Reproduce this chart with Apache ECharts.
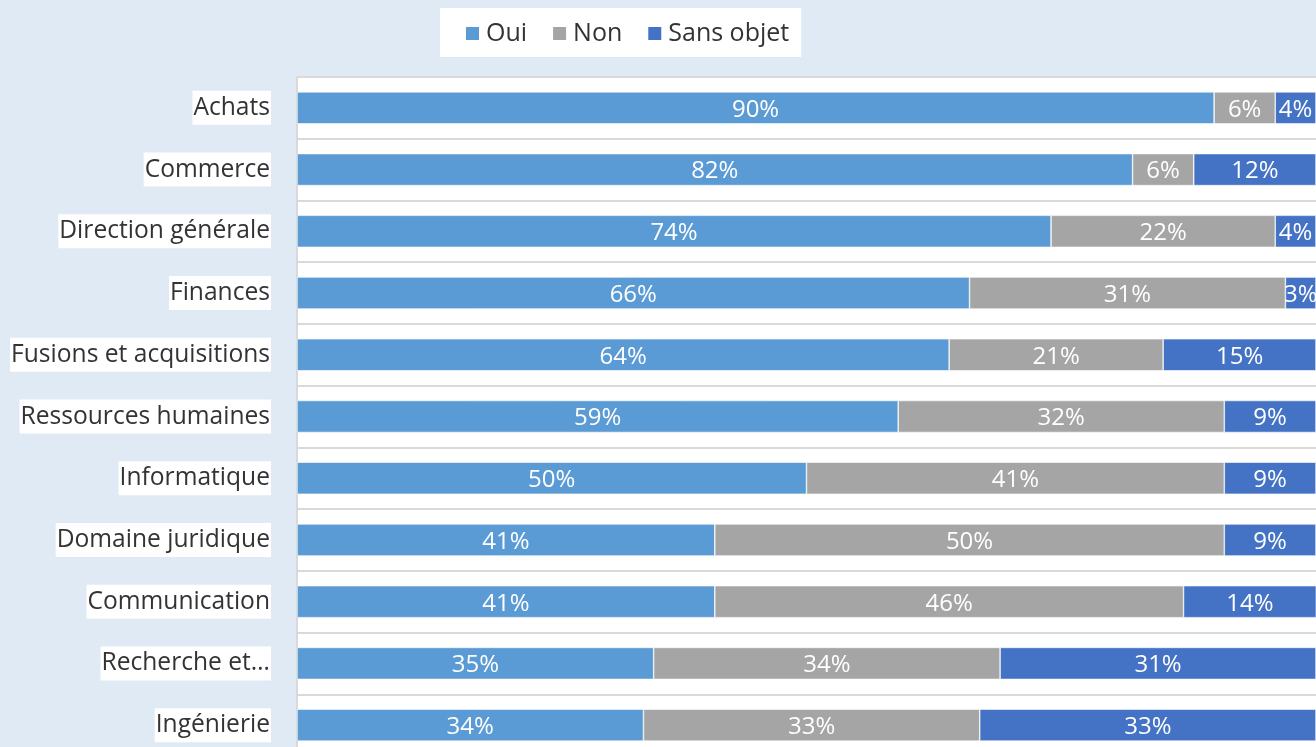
<!DOCTYPE html>
<html>
<head>
<meta charset="utf-8">
<script src="https://cdn.jsdelivr.net/npm/echarts@6/dist/echarts.min.js"></script>
<style>
  html, body { margin: 0; padding: 0; background: #dfeaf5; }
  #chart { width: 1316px; height: 747px; }
</style>
</head>
<body>
<div id="chart"></div>
<script>
// Share of respondents per function (percent)
const categories = [
  'Achats', 'Commerce', 'Direction générale', 'Finances', 'Fusions et acquisitions',
  'Ressources humaines', 'Informatique', 'Domaine juridique', 'Communication',
  'Recherche et…', 'Ingénierie'
];
const oui       = [90, 82, 74, 66, 64, 59, 50, 41, 41, 35, 34];
const non       = [6, 6, 22, 31, 21, 32, 41, 50, 46, 34, 33];
const sansObjet = [4, 12, 4, 3, 15, 9, 9, 9, 14, 31, 33];

const FONT = 'Open Sans';
const chart = echarts.init(document.getElementById('chart'));

function barSeries(name, data, color) {
  return {
    name: name,
    type: 'bar',
    stack: 'total',
    data: data,
    barWidth: 32,
    itemStyle: { color: color, borderColor: '#ffffff', borderWidth: 0.6 },
    label: {
      show: true,
      position: 'inside',
      offset: [0, 2],
      color: '#ffffff',
      fontFamily: FONT,
      fontSize: 24,
      formatter: p => p.value + '%'
    },
    emphasis: { disabled: true }
  };
}

chart.setOption({
  backgroundColor: '#dfeaf5',
  animation: false,
  textStyle: { fontFamily: FONT },
  legend: {
    top: 8,
    left: 440,
    backgroundColor: '#ffffff',
    padding: [13, 12, 11, 24],
    itemWidth: 15,
    itemHeight: 15,
    itemGap: 24,
    icon: 'rect',
    textStyle: { fontFamily: FONT, fontSize: 25, lineHeight: 25, color: '#333333', padding: [0, 0, 0, 1] },
    data: ['Oui', 'Non', 'Sans objet']
  },
  grid: { left: 297, right: 0, top: 77, height: 679, containLabel: false,
          outerBoundsMode: 'none',
          show: true, backgroundColor: '#ffffff', borderWidth: 0 },
  xAxis: {
    type: 'value',
    min: 0,
    max: 100,
    show: false
  },
  yAxis: {
    type: 'category',
    data: categories,
    inverse: true,
    axisTick: { show: false },
    axisLine: { show: true, lineStyle: { color: '#d9d9d9', width: 2 } },
    splitLine: { show: true, lineStyle: { color: '#d9d9d9', width: 2 } },
    axisLabel: {
      fontFamily: FONT,
      fontSize: 24.6,
      lineHeight: 26,
      color: '#333333',
      margin: 26,
      backgroundColor: '#ffffff',
      padding: [5, 1, 3, 1]
    }
  },
  series: [
    barSeries('Oui', oui, '#5b9bd5'),
    barSeries('Non', non, '#a5a5a5'),
    barSeries('Sans objet', sansObjet, '#4472c4')
  ]
});
</script>
</body>
</html>
